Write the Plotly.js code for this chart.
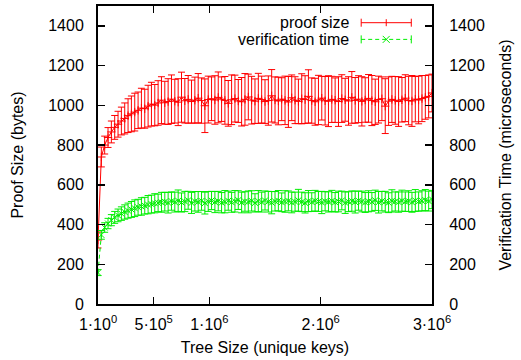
<!DOCTYPE html>
<html>
<head>
<meta charset="utf-8">
<script src="https://cdn.plot.ly/plotly-3.0.1.min.js"></script>
<style>html,body{margin:0;padding:0;background:#fff;}#chart{width:521px;height:360px;}</style>
</head>
<body>
<div id="chart"></div>
<script>
// Tree size (unique keys)
const treeSize = [1, 30000, 60000, 90000, 120000, 150000, 180000, 210000, 240000, 270000,
 300000, 330000, 360000, 390000, 420000, 450000, 480000, 510000, 540000, 570000,
 600000, 630000, 660000, 690000, 720000, 750000, 780000, 810000, 840000, 870000,
 900000, 930000, 960000, 990000, 1020000, 1050000, 1080000, 1110000, 1140000, 1170000,
 1200000, 1230000, 1260000, 1290000, 1320000, 1350000, 1380000, 1410000, 1440000, 1470000,
 1500000, 1530000, 1560000, 1590000, 1620000, 1650000, 1680000, 1710000, 1740000, 1770000,
 1800000, 1830000, 1860000, 1890000, 1920000, 1950000, 1980000, 2010000, 2040000, 2070000,
 2100000, 2130000, 2160000, 2190000, 2220000, 2250000, 2280000, 2310000, 2340000, 2370000,
 2400000, 2430000, 2460000, 2490000, 2520000, 2550000, 2580000, 2610000, 2640000, 2670000,
 2700000, 2730000, 2760000, 2790000, 2820000, 2850000, 2880000, 2910000, 2940000, 2970000, 3000000];

// Proof size (bytes): mean and error
const proofSize = [322, 740, 800, 838, 866, 889, 905, 921, 934, 948,
 957, 966, 975, 986, 983, 996, 1006, 1001, 1012, 1026,
 1013, 1019, 1031, 1021, 1016, 1041, 1023, 1030, 1019, 1026,
 1036, 1024, 998, 1029, 1033, 1027, 1040, 1031, 1025, 1010,
 1028, 1034, 1022, 1018, 1030, 1042, 1026, 1021, 1035, 1029,
 1019, 1024, 1048, 1027, 1022, 1031, 1025, 1017, 1038, 1026,
 1020, 1033, 1029, 1045, 1024, 1018, 1027, 1036, 1023, 1021,
 1030, 1026, 1019, 1034, 1028, 1022, 1040, 1025, 1031, 1020,
 1027, 1035, 1024, 1018, 1029, 1033, 996, 1021, 1030, 1025,
 1019, 1028, 1036, 1024, 1022, 1031, 1027, 1034, 1040, 1045, 1062];
const proofErr = [40, 50, 45, 50, 55, 60, 65, 70, 78, 85,
 90, 95, 92, 100, 98, 105, 110, 104, 112, 118,
 108, 115, 122, 110, 118, 126, 112, 120, 108, 116,
 124, 114, 135, 118, 110, 122, 128, 112, 120, 115,
 125, 118, 108, 122, 130, 115, 120, 112, 126, 118,
 110, 124, 132, 116, 120, 108, 122, 128, 115, 118,
 112, 126, 120, 134, 114, 118, 124, 110, 122, 128,
 116, 112, 125, 120, 108, 122, 130, 115, 118, 124,
 112, 120, 126, 114, 118, 110, 138, 122, 116, 120,
 125, 112, 118, 122, 128, 114, 120, 116, 110, 108, 95];

// Verification time (microseconds): mean and error
const verifTime = [158, 348, 385, 405, 422, 436, 446, 455, 463, 470,
 476, 482, 487, 491, 495, 500, 503, 507, 509, 512,
 515, 510, 518, 513, 520, 511, 516, 522, 509, 517,
 514, 519, 508, 516, 521, 513, 518, 510, 515, 520,
 512, 517, 523, 511, 516, 514, 519, 509, 518, 513,
 521, 515, 510, 517, 520, 512, 516, 519, 511, 515,
 522, 514, 509, 518, 513, 520, 516, 511, 517, 514,
 519, 512, 516, 521, 510, 515, 518, 513, 520, 516,
 511, 517, 514, 522, 512, 518, 515, 510, 519, 516,
 513, 520, 515, 518, 512, 521, 516, 519, 523, 518, 526];
const verifErr = [15, 22, 24, 26, 28, 30, 32, 34, 36, 38,
 40, 42, 40, 44, 42, 46, 45, 48, 44, 50,
 47, 52, 46, 50, 54, 48, 51, 45, 53, 49,
 52, 47, 55, 50, 46, 53, 49, 51, 56, 48,
 50, 54, 47, 52, 49, 55, 51, 46, 53, 50,
 48, 52, 56, 49, 51, 47, 54, 50, 52, 48,
 55, 49, 51, 53, 47, 52, 50, 56, 48, 51,
 53, 49, 52, 47, 54, 50, 51, 55, 48, 52,
 50, 53, 47, 51, 54, 49, 52, 50, 56, 48,
 51, 53, 49, 52, 50, 55, 48, 51, 53, 50, 46];

// Ticks
const xTickVals = [1, 500000, 1000000, 2000000, 3000000];
const xTickText = ['1·10<sup>0</sup>', '5·10<sup>5</sup>', '1·10<sup>6</sup>', '2·10<sup>6</sup>', '3·10<sup>6</sup>'];
const yTickVals = [0, 200, 400, 600, 800, 1000, 1200, 1400];
const seriesNames = ['proof size', 'verification time'];

const RED = '#ff0000', GREEN = '#00ee00';
const FONT = 'Liberation Sans, Arial, Helvetica, sans-serif';
const FS = 16;

const traces = [
  {
    x: treeSize, y: proofSize, type: 'scatter', mode: 'lines+markers', name: seriesNames[0],
    line: {color: RED, width: 1},
    marker: {symbol: 'cross-thin', size: 6, color: RED, line: {color: RED, width: 1}},
    error_y: {type: 'data', array: proofErr, visible: true, color: RED, thickness: 1, width: 3.5},
    showlegend: false
  },
  {
    x: treeSize, y: verifTime, type: 'scatter', mode: 'lines+markers', name: seriesNames[1],
    line: {color: GREEN, width: 1, dash: '4px,3px'},
    marker: {symbol: 'x-thin', size: 6, color: GREEN, line: {color: GREEN, width: 1}},
    error_y: {type: 'data', array: verifErr, visible: true, color: GREEN, thickness: 1, width: 3.5},
    showlegend: false
  },
  { x: [null], y: [null], yaxis: 'y2', showlegend: false, hoverinfo: 'skip' }
];

// legend sample geometry (paper coordinates)
const lgX0 = 0.788, lgX1 = 0.938, lgXm = 0.863, lgY1 = 0.944, lgY2 = 0.888, lgTextX = 0.757;
const shapes = [
  {type: 'line', xref: 'paper', yref: 'paper', x0: lgX0, x1: lgX1, y0: lgY1, y1: lgY1, line: {color: RED, width: 1}},
  {type: 'line', xref: 'paper', yref: 'paper', ysizemode: 'pixel', yanchor: lgY1, x0: lgX0, x1: lgX0, y0: -4, y1: 4, line: {color: RED, width: 1}},
  {type: 'line', xref: 'paper', yref: 'paper', ysizemode: 'pixel', yanchor: lgY1, x0: lgX1, x1: lgX1, y0: -4, y1: 4, line: {color: RED, width: 1}},
  {type: 'line', xref: 'paper', yref: 'paper', ysizemode: 'pixel', yanchor: lgY1, x0: lgXm, x1: lgXm, y0: -3.5, y1: 3.5, line: {color: RED, width: 1}},
  {type: 'line', xref: 'paper', yref: 'paper', x0: lgX0, x1: lgX1, y0: lgY2, y1: lgY2, line: {color: GREEN, width: 1, dash: '4px,3px'}},
  {type: 'line', xref: 'paper', yref: 'paper', ysizemode: 'pixel', yanchor: lgY2, x0: lgX0, x1: lgX0, y0: -4, y1: 4, line: {color: GREEN, width: 1}},
  {type: 'line', xref: 'paper', yref: 'paper', ysizemode: 'pixel', yanchor: lgY2, x0: lgX1, x1: lgX1, y0: -4, y1: 4, line: {color: GREEN, width: 1}},
  {type: 'line', xref: 'paper', yref: 'paper', xsizemode: 'pixel', ysizemode: 'pixel', xanchor: lgXm, yanchor: lgY2, x0: -3.5, x1: 3.5, y0: -3.5, y1: 3.5, line: {color: GREEN, width: 1}},
  {type: 'line', xref: 'paper', yref: 'paper', xsizemode: 'pixel', ysizemode: 'pixel', xanchor: lgXm, yanchor: lgY2, x0: -3.5, x1: 3.5, y0: 3.5, y1: -3.5, line: {color: GREEN, width: 1}}
];

const annotations = [
  {text: seriesNames[0], xref: 'paper', yref: 'paper', x: lgTextX, y: lgY1, xanchor: 'right', yanchor: 'middle', showarrow: false, font: {family: FONT, size: FS, color: '#000'}},
  {text: seriesNames[1], xref: 'paper', yref: 'paper', x: lgTextX, y: lgY2, xanchor: 'right', yanchor: 'middle', showarrow: false, font: {family: FONT, size: FS, color: '#000'}}
];

const axisCommon = {
  showline: true, linecolor: '#000', linewidth: 2,
  ticks: 'inside', ticklen: 7, tickwidth: 1.5, tickcolor: '#000',
  showgrid: false, zeroline: false,
  tickfont: {family: FONT, size: FS, color: '#000'}
};

const layout = {
  width: 521, height: 360,
  margin: {l: 98, r: 89, t: 6, b: 56},
  paper_bgcolor: '#fff', plot_bgcolor: '#fff',
  showlegend: false,
  font: {family: FONT, size: FS, color: '#000'},
  xaxis: Object.assign({}, axisCommon, {
    range: [1, 3000000], tickmode: 'array', tickvals: xTickVals, ticktext: xTickText,
    mirror: 'ticks', ticklabelstandoff: 5,
    title: {text: 'Tree Size (unique keys)', font: {family: FONT, size: FS}, standoff: 10}
  }),
  yaxis: Object.assign({}, axisCommon, {
    range: [0, 1500], tickmode: 'array', tickvals: yTickVals,
    ticklabelstandoff: 9,
    title: {text: 'Proof Size (bytes)', font: {family: FONT, size: FS}, standoff: 21}
  }),
  yaxis2: Object.assign({}, axisCommon, {
    range: [0, 1500], tickmode: 'array', tickvals: yTickVals,
    overlaying: 'y', side: 'right', ticklabelstandoff: 12,
    title: {text: 'Verification Time (microseconds)', font: {family: FONT, size: FS}, standoff: 16}
  }),
  shapes: shapes,
  annotations: annotations
};

Plotly.newPlot('chart', traces, layout, {staticPlot: true, displayModeBar: false});
</script>
</body>
</html>
